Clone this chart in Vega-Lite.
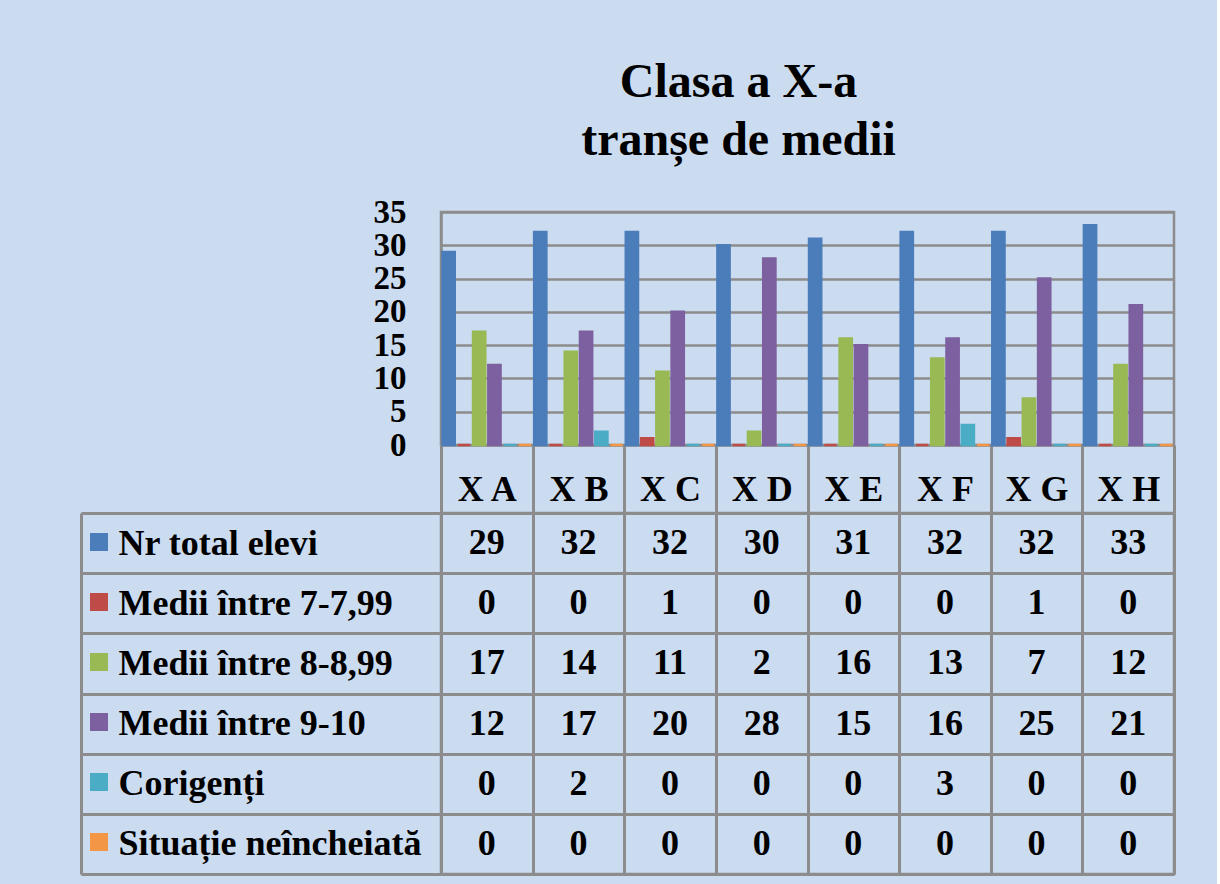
{
  "$schema": "https://vega.github.io/schema/vega-lite/v6.json",
  "background": "#cbdbf0",
  "padding": {"left": 78, "top": 58, "right": 40, "bottom": 10},
  "title": {
    "text": ["Clasa a X-a", "tranșe de medii"],
    "font": "Liberation Serif",
    "fontSize": 48,
    "fontWeight": "bold",
    "color": "#000000",
    "lineHeight": 58,
    "anchor": "middle",
    "frame": "group",
    "offset": 30,
    "dx": -69
  },
  "datasets": {
    "medii": [
      {"clasa": "X A", "serie": "Nr total elevi", "n": 29},
      {"clasa": "X B", "serie": "Nr total elevi", "n": 32},
      {"clasa": "X C", "serie": "Nr total elevi", "n": 32},
      {"clasa": "X D", "serie": "Nr total elevi", "n": 30},
      {"clasa": "X E", "serie": "Nr total elevi", "n": 31},
      {"clasa": "X F", "serie": "Nr total elevi", "n": 32},
      {"clasa": "X G", "serie": "Nr total elevi", "n": 32},
      {"clasa": "X H", "serie": "Nr total elevi", "n": 33},
      {"clasa": "X A", "serie": "Medii între 7-7,99", "n": 0},
      {"clasa": "X B", "serie": "Medii între 7-7,99", "n": 0},
      {"clasa": "X C", "serie": "Medii între 7-7,99", "n": 1},
      {"clasa": "X D", "serie": "Medii între 7-7,99", "n": 0},
      {"clasa": "X E", "serie": "Medii între 7-7,99", "n": 0},
      {"clasa": "X F", "serie": "Medii între 7-7,99", "n": 0},
      {"clasa": "X G", "serie": "Medii între 7-7,99", "n": 1},
      {"clasa": "X H", "serie": "Medii între 7-7,99", "n": 0},
      {"clasa": "X A", "serie": "Medii între 8-8,99", "n": 17},
      {"clasa": "X B", "serie": "Medii între 8-8,99", "n": 14},
      {"clasa": "X C", "serie": "Medii între 8-8,99", "n": 11},
      {"clasa": "X D", "serie": "Medii între 8-8,99", "n": 2},
      {"clasa": "X E", "serie": "Medii între 8-8,99", "n": 16},
      {"clasa": "X F", "serie": "Medii între 8-8,99", "n": 13},
      {"clasa": "X G", "serie": "Medii între 8-8,99", "n": 7},
      {"clasa": "X H", "serie": "Medii între 8-8,99", "n": 12},
      {"clasa": "X A", "serie": "Medii între 9-10", "n": 12},
      {"clasa": "X B", "serie": "Medii între 9-10", "n": 17},
      {"clasa": "X C", "serie": "Medii între 9-10", "n": 20},
      {"clasa": "X D", "serie": "Medii între 9-10", "n": 28},
      {"clasa": "X E", "serie": "Medii între 9-10", "n": 15},
      {"clasa": "X F", "serie": "Medii între 9-10", "n": 16},
      {"clasa": "X G", "serie": "Medii între 9-10", "n": 25},
      {"clasa": "X H", "serie": "Medii între 9-10", "n": 21},
      {"clasa": "X A", "serie": "Corigenți", "n": 0},
      {"clasa": "X B", "serie": "Corigenți", "n": 2},
      {"clasa": "X C", "serie": "Corigenți", "n": 0},
      {"clasa": "X D", "serie": "Corigenți", "n": 0},
      {"clasa": "X E", "serie": "Corigenți", "n": 0},
      {"clasa": "X F", "serie": "Corigenți", "n": 3},
      {"clasa": "X G", "serie": "Corigenți", "n": 0},
      {"clasa": "X H", "serie": "Corigenți", "n": 0},
      {"clasa": "X A", "serie": "Situație neîncheiată", "n": 0},
      {"clasa": "X B", "serie": "Situație neîncheiată", "n": 0},
      {"clasa": "X C", "serie": "Situație neîncheiată", "n": 0},
      {"clasa": "X D", "serie": "Situație neîncheiată", "n": 0},
      {"clasa": "X E", "serie": "Situație neîncheiată", "n": 0},
      {"clasa": "X F", "serie": "Situație neîncheiată", "n": 0},
      {"clasa": "X G", "serie": "Situație neîncheiată", "n": 0},
      {"clasa": "X H", "serie": "Situație neîncheiată", "n": 0}
    ]
  },
  "spacing": 68,
  "bounds": "flush",
  "resolve": {"scale": {"x": "independent", "y": "independent"}},
  "vconcat": [
    {
      "width": 733,
      "height": 233,
      "data": {"name": "medii"},
      "mark": {"type": "bar", "strokeWidth": 2.5},
      "encoding": {
        "x": {
          "field": "clasa", "type": "nominal",
          "sort": ["X A", "X B", "X C", "X D", "X E", "X F", "X G", "X H"],
          "scale": {"paddingInner": 0, "paddingOuter": 0},
          "axis": {
            "orient": "bottom", "title": null, "tickBand": "extent", "ticks": true,
            "tickSize": 68, "tickColor": "#8c8c8c", "tickWidth": 3, "domain": false,
            "labelFontSize": 36, "labelPadding": -24, "labelBaseline": "middle",
            "labelAngle": 0, "grid": false
          }
        },
        "xOffset": {
          "field": "serie", "type": "nominal",
          "sort": ["Nr total elevi", "Medii între 7-7,99", "Medii între 8-8,99", "Medii între 9-10", "Corigenți", "Situație neîncheiată"],
          "scale": {"paddingInner": 0.2, "paddingOuter": 0.1}
        },
        "y": {
          "field": "n", "type": "quantitative",
          "scale": {"domain": [0, 35]},
          "axis": {
            "title": null, "values": [0, 5, 10, 15, 20, 25, 30, 35], "ticks": false,
            "domain": true, "domainColor": "#8c8c8c", "domainWidth": 2.5,
            "grid": true, "gridColor": "#8c8c8c", "gridWidth": 2.5, "gridOpacity": 1,
            "labelFontSize": 33, "labelPadding": 35, "labelBaseline": "middle"
          }
        },
        "color": {
          "field": "serie", "type": "nominal",
          "scale": {
            "domain": ["Nr total elevi", "Medii între 7-7,99", "Medii între 8-8,99", "Medii între 9-10", "Corigenți", "Situație neîncheiată"],
            "range": ["#4a7dba", "#be4b48", "#98b954", "#7d60a0", "#4aacc5", "#f39646"]
          },
          "legend": {
            "orient": "none", "legendX": -351, "legendY": 321, "title": null,
            "symbolType": "square", "symbolSize": 324, "symbolStrokeWidth": 0,
            "symbolOpacity": 1, "labelExpr": "''", "labelFontSize": 1, "rowPadding": 42,
            "direction": "vertical"
          }
        },
        "stroke": {
          "field": "serie", "type": "nominal",
          "scale": {
            "domain": ["Nr total elevi", "Medii între 7-7,99", "Medii între 8-8,99", "Medii între 9-10", "Corigenți", "Situație neîncheiată"],
            "range": ["#4a7dba", "#be4b48", "#98b954", "#7d60a0", "#4aacc5", "#f39646"]
          },
          "legend": null
        }
      }
    },
    {
      "width": 733,
      "height": 361,
      "data": {"name": "medii"},
      "layer": [
        {
          "mark": {"type": "text", "font": "Liberation Serif", "fontSize": 36, "fontWeight": "bold", "color": "#000000"},
          "encoding": {
            "x": {
              "field": "clasa", "type": "nominal",
              "sort": ["X A", "X B", "X C", "X D", "X E", "X F", "X G", "X H"],
              "scale": {"paddingInner": 0, "paddingOuter": 0},
              "axis": {
                "orient": "bottom", "grid": true, "tickBand": "extent", "labels": false,
                "ticks": false, "domain": false, "title": null,
                "gridColor": "#8c8c8c", "gridWidth": 3, "gridOpacity": 1
              }
            },
            "y": {
              "field": "serie", "type": "nominal",
              "sort": ["Nr total elevi", "Medii între 7-7,99", "Medii între 8-8,99", "Medii între 9-10", "Corigenți", "Situație neîncheiată"],
              "scale": {"paddingInner": 0, "paddingOuter": 0},
              "axis": {
                "orient": "left", "title": null, "grid": true, "tickBand": "extent",
                "ticks": true, "tickSize": 360, "tickColor": "#8c8c8c", "tickWidth": 3,
                "gridColor": "#8c8c8c", "gridWidth": 3, "gridOpacity": 1, "domain": false,
                "labelAlign": "left", "labelPadding": -37, "labelFontSize": 36,
                "labelBaseline": "middle", "labelLimit": 400
              }
            },
            "text": {"field": "n", "type": "quantitative"}
          }
        },
        {
          "mark": {"type": "text", "text": ""},
          "encoding": {
            "y": {
              "field": "serie", "type": "nominal",
              "sort": ["Nr total elevi", "Medii între 7-7,99", "Medii între 8-8,99", "Medii între 9-10", "Corigenți", "Situație neîncheiată"],
              "axis": {
                "orient": "left", "offset": 360, "domain": true, "domainColor": "#8c8c8c",
                "domainWidth": 3, "ticks": false, "labels": false, "grid": false, "title": null
              }
            }
          }
        }
      ],
      "resolve": {"axis": {"y": "independent"}}
    }
  ],
  "config": {
    "view": {"stroke": "#8c8c8c", "strokeWidth": 2.5},
    "axis": {"labelFont": "Liberation Serif", "labelFontWeight": "bold", "labelColor": "#000000"},
    "legend": {"padding": 0}
  }
}
